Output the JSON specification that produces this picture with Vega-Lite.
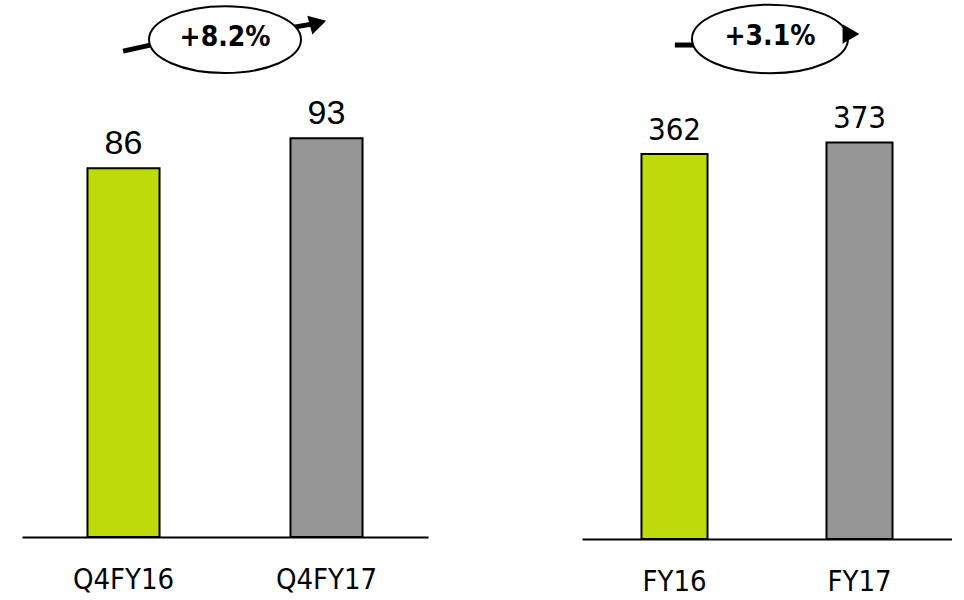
{
  "$schema": "https://vega.github.io/schema/vega-lite/v6.json",
  "background": "white",
  "padding": {"left": 22, "top": 0, "right": 0, "bottom": 0},
  "spacing": 154,
  "config": {"view": {"stroke": null}, "font": "DejaVu Sans Condensed"},
  "hconcat": [
    {
      "width": 406,
      "height": 536,
      "resolve": {"scale": {"x": "independent"}},
      "layer": [
        {
          "data": {"values": [{"period": "Q4FY16", "value": 86, "year": "FY16"}, {"period": "Q4FY17", "value": 93, "year": "FY17"}]},
          "mark": {"type": "bar", "stroke": "black", "strokeWidth": 2},
          "encoding": {
            "x": {"field": "period", "type": "nominal", "sort": null, "scale": {"paddingInner": 0.645, "paddingOuter": 0.3225},
              "axis": {"title": null, "domainColor": "black", "domainWidth": 2, "ticks": false, "labelAngle": 0, "labelFont": "DejaVu Sans Condensed", "labelFontSize": 29, "labelColor": "black", "labelPadding": 28, "labelBaseline": "top"}},
            "y": {"field": "value", "type": "quantitative", "scale": {"domain": [0, 125], "nice": false}, "axis": null},
            "color": {"field": "year", "type": "nominal", "scale": {"domain": ["FY16", "FY17"], "range": ["#BFDA0B", "#969696"]}, "legend": null}
          }
        },
        {
          "data": {"values": [{"period": "Q4FY16", "value": 86}, {"period": "Q4FY17", "value": 93}]},
          "mark": {"type": "text", "font": "Liberation Sans", "fontSize": 34, "baseline": "alphabetic", "dy": -14, "color": "black"},
          "encoding": {
            "x": {"field": "period", "type": "nominal", "sort": null, "scale": {"paddingInner": 0.645, "paddingOuter": 0.3225}, "axis": null},
            "y": {"field": "value", "type": "quantitative", "axis": null},
            "text": {"field": "value", "type": "quantitative"}
          }
        },
        {
          "data": {"values": [
            {"seg": "a", "px": 0.249, "py": 113.3}, {"seg": "a", "px": 0.33, "py": 115.0},
            {"seg": "b", "px": 0.67, "py": 118.9}, {"seg": "b", "px": 0.714, "py": 119.6}
          ]},
          "mark": {"type": "line", "stroke": "black", "strokeWidth": 5},
          "encoding": {
            "x": {"field": "px", "type": "quantitative", "scale": {"domain": [0, 1]}, "axis": null},
            "y": {"field": "py", "type": "quantitative", "axis": null},
            "detail": {"field": "seg"}
          }
        },
        {
          "data": {"values": [{"px": 0.5, "py": 116}]},
          "mark": {"type": "point", "shape": "M1,0C1,0.243,0.552,0.44,0,0.44C-0.552,0.44,-1,0.243,-1,0C-1,-0.243,-0.552,-0.44,0,-0.44C0.552,-0.44,1,-0.243,1,0Z", "size": 23104, "filled": true, "fill": "white", "stroke": "black", "strokeWidth": 2, "opacity": 1},
          "encoding": {
            "x": {"field": "px", "type": "quantitative", "scale": {"domain": [0, 1]}, "axis": null},
            "y": {"field": "py", "type": "quantitative", "axis": null}
          }
        },
        {
          "data": {"values": [{"px": 0.729, "py": 119.9}]},
          "mark": {"type": "point", "shape": "triangle-right", "size": 380, "filled": true, "fill": "black", "opacity": 1, "angle": -15},
          "encoding": {
            "x": {"field": "px", "type": "quantitative", "scale": {"domain": [0, 1]}, "axis": null},
            "y": {"field": "py", "type": "quantitative", "axis": null}
          }
        },
        {
          "data": {"values": [{"px": 0.5, "py": 116, "label": "+8.2%"}]},
          "mark": {"type": "text", "font": "DejaVu Sans Condensed", "fontWeight": "bold", "fontSize": 28, "baseline": "middle", "dy": -2, "color": "black"},
          "encoding": {
            "x": {"field": "px", "type": "quantitative", "scale": {"domain": [0, 1]}, "axis": null},
            "y": {"field": "py", "type": "quantitative", "axis": null},
            "text": {"field": "label"}
          }
        }
      ]
    },
    {
      "width": 370,
      "height": 538,
      "resolve": {"scale": {"x": "independent"}},
      "layer": [
        {
          "data": {"values": [{"period": "FY16", "value": 362, "year": "FY16"}, {"period": "FY17", "value": 373, "year": "FY17"}]},
          "mark": {"type": "bar", "stroke": "black", "strokeWidth": 2},
          "encoding": {
            "x": {"field": "period", "type": "nominal", "sort": null, "scale": {"paddingInner": 0.643, "paddingOuter": 0.3215},
              "axis": {"title": null, "domainColor": "black", "domainWidth": 2, "ticks": false, "labelAngle": 0, "labelFont": "DejaVu Sans Condensed", "labelFontSize": 29, "labelColor": "black", "labelPadding": 28, "labelBaseline": "top"}},
            "y": {"field": "value", "type": "quantitative", "scale": {"domain": [0, 506], "nice": false}, "axis": null},
            "color": {"field": "year", "type": "nominal", "scale": {"domain": ["FY16", "FY17"], "range": ["#BFDA0B", "#969696"]}, "legend": null}
          }
        },
        {
          "data": {"values": [{"period": "FY16", "value": 362}, {"period": "FY17", "value": 373}]},
          "mark": {"type": "text", "font": "DejaVu Sans Condensed", "fontSize": 31, "baseline": "alphabetic", "dy": -14, "color": "black"},
          "encoding": {
            "x": {"field": "period", "type": "nominal", "sort": null, "scale": {"paddingInner": 0.643, "paddingOuter": 0.3215}, "axis": null},
            "y": {"field": "value", "type": "quantitative", "axis": null},
            "text": {"field": "value", "type": "quantitative"}
          }
        },
        {
          "data": {"values": [{"seg": "a", "px": 0.251, "py": 464.6}, {"seg": "a", "px": 0.32, "py": 464.6}]},
          "mark": {"type": "line", "stroke": "black", "strokeWidth": 5},
          "encoding": {
            "x": {"field": "px", "type": "quantitative", "scale": {"domain": [0, 1]}, "axis": null},
            "y": {"field": "py", "type": "quantitative", "axis": null},
            "detail": {"field": "seg"}
          }
        },
        {
          "data": {"values": [{"px": 0.508, "py": 470.3}]},
          "mark": {"type": "point", "shape": "M1,0C1,0.243,0.552,0.44,0,0.44C-0.552,0.44,-1,0.243,-1,0C-1,-0.243,-0.552,-0.44,0,-0.44C0.552,-0.44,1,-0.243,1,0Z", "size": 24336, "filled": true, "fill": "white", "stroke": "black", "strokeWidth": 2, "opacity": 1},
          "encoding": {
            "x": {"field": "px", "type": "quantitative", "scale": {"domain": [0, 1]}, "axis": null},
            "y": {"field": "py", "type": "quantitative", "axis": null}
          }
        },
        {
          "data": {"values": [{"px": 0.727, "py": 475}]},
          "mark": {"type": "point", "shape": "triangle-right", "size": 380, "filled": true, "fill": "black", "opacity": 1},
          "encoding": {
            "x": {"field": "px", "type": "quantitative", "scale": {"domain": [0, 1]}, "axis": null},
            "y": {"field": "py", "type": "quantitative", "axis": null}
          }
        },
        {
          "data": {"values": [{"px": 0.508, "py": 470.3, "label": "+3.1%"}]},
          "mark": {"type": "text", "font": "DejaVu Sans Condensed", "fontWeight": "bold", "fontSize": 28, "baseline": "middle", "dy": -2, "color": "black"},
          "encoding": {
            "x": {"field": "px", "type": "quantitative", "scale": {"domain": [0, 1]}, "axis": null},
            "y": {"field": "py", "type": "quantitative", "axis": null},
            "text": {"field": "label"}
          }
        }
      ]
    }
  ]
}
